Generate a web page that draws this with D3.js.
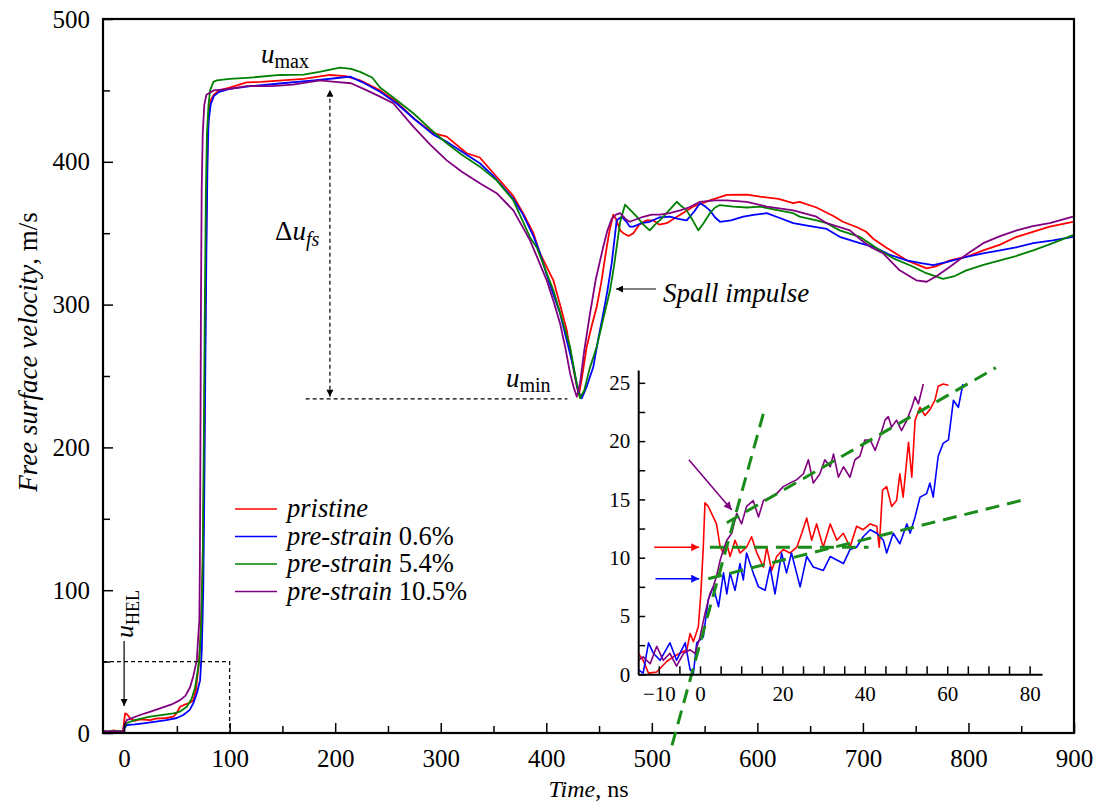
<!DOCTYPE html>
<html><head><meta charset="utf-8">
<script src="https://cdn.jsdelivr.net/npm/d3@7/dist/d3.min.js"></script>
<style>
body{margin:0;background:#fff;}
text{font-family:"Liberation Serif","Times New Roman",serif;fill:#000;}
</style>
</head><body>
<svg id="chart" width="1098" height="805"></svg>
<script>
// ---------------- DATA ----------------
const seriesNames = ["pristine", "pre-strain 0.6%", "pre-strain 5.4%", "pre-strain 10.5%"];
const seriesColors = ["#ff0000", "#0000ff", "#008000", "#800080"];

const xTicksMain = [0,100,200,300,400,500,600,700,800,900];
const yTicksMain = [0,100,200,300,400,500];
const xTicksInset = [-10,0,20,40,60,80];
const yTicksInset = [0,5,10,15,20,25];

// main: [time ns, free surface velocity m/s]
const pristine = [[-20,1.5],[-15,1],[-10,1.8],[-5,1.2],[-1,1.5],[0,8],[1,13.8],[3,13],[5.7,10.3],[10,8.5],[15,9.5],[24.6,9],[30,10],[40,10.5],[46.7,11.4],[50,14],[53,18.4],[58,20],[62,21],[65.6,23],[68,30],[70.4,46],[72,62],[73.5,90],[75,140],[76,210],[77,290],[78,360],[79,410],[80,432],[82,443],[85,447],[90,450],[100,452],[116,455.6],[130,456],[150,457],[170,458],[195,460.8],[210,460],[223.6,457],[242.5,450],[258,442],[275,430],[293,420],[305.7,417.6],[324.6,406],[337,403],[350,392],[368.8,376],[378,364],[387.8,350],[394,336],[406.7,317],[413,300],[419.4,282],[424,262],[428.9,242.5],[431,237],[434,250],[438.3,270.5],[443,285],[447.8,298.5],[452,315],[457.3,340.5],[460,352],[463.5,363],[466,360],[470,352],[473,350],[478,348],[482.5,350],[488,356],[495,359],[501.4,359],[507,356],[514,357],[525,362],[539,368.6],[555,373],[571,376.8],[590,377],[602.5,375.6],[620,374],[634,371],[640,372],[656,368],[672,362],[681,358],[695,354],[703,351],[710,346],[722,340],[741.5,331],[760.4,325.4],[770,327],[782.5,331],[800,334],[814,338],[830,342],[845.7,347.5],[861,351],[877,354.6],[899,358]];

const preStrain06 = [[-20,1],[-10,1.2],[-1,1],[0,3],[2.5,5.6],[10,6],[18,6.8],[30,8],[40,9],[50,10.5],[56,12.6],[62,16],[65.6,20.8],[69,28],[72,37],[73.6,58],[75,100],[76,170],[77,260],[78,340],[79,400],[80,428],[82,440],[85,446],[90,449],[100,451],[120,453],[150,455],[180,457],[200,458.5],[214,459.6],[225,456],[242.5,449],[258,441],[275,430],[293,419],[305.7,414],[324.6,405],[337,399],[350,390],[368.8,374],[378,363],[387.8,348],[394,336],[403,315],[413,294],[419,276],[425.6,256.5],[430,240],[433.6,234.4],[438,242],[444.6,256.5],[449,275],[454,294],[458,310],[462,329],[464.5,345],[466.7,359],[471.5,361.6],[476,358],[479,354.6],[482.5,354.6],[490,357],[498,358],[507,361],[517,361.6],[525,360],[533,359],[540,365],[545.6,371],[550,369],[555,366],[560,361],[564.6,358],[575,359],[586.7,361.6],[598,363],[608.8,364],[620,361],[634,357],[650,355],[665.7,353],[678,347.5],[697,343],[710,340.5],[725,335],[741.5,331],[755,329],[766.7,327.7],[780,330],[798,333.5],[815,336],[830,338],[845,340],[861.4,343],[880,345],[899,347.5]];

const preStrain54 = [[-20,1],[-1,1.3],[0,4],[2.5,7],[10,9],[24.6,11.4],[35,12.5],[46.7,13.8],[53,15],[59.4,18.4],[64,24],[67.3,32],[71.3,51],[73,75],[74.5,120],[75.5,200],[76.5,300],[77.5,380],[78.5,420],[80,440],[81.5,450],[84.6,456],[87.8,457],[100,458],[120,459],[147.8,460.8],[170,461],[185,463],[204.6,466],[215,465],[223.6,463],[235,459],[242.5,452],[255,445],[274,434],[290,423],[305.7,413],[320,405],[337,396.6],[353,387],[368.8,373],[384.6,347],[391,340],[406.7,310],[414,292],[422.5,270.5],[428,248],[432,234.4],[436,240],[441,255],[447.8,270.5],[454,290],[460.4,310],[464,326],[466.7,340.5],[470,358],[474.6,370],[480,366],[485.7,361.6],[492,356],[498,352],[503,356],[509,360],[515,365],[520,369],[523.6,372],[528,369],[533,366],[538,360],[544,352],[549,357],[555,364],[560,368],[564.6,369.7],[577,368.6],[590,368],[602.5,368.6],[620,366],[634,364],[640,361.6],[656,359],[665.7,357],[678,352],[697,347.5],[716,338],[730,332],[747.7,326.5],[760,322],[776,318],[787,320],[798,324],[815,328],[830,331],[845,334],[861.4,338],[880,343],[899,348.7]];

const preStrain105 = [[-20,1],[-1,1],[0,5],[2.5,9],[15,12.6],[25,15],[34,17.3],[45,20],[53,23],[58,26],[62.5,32],[65.6,40],[68.9,51],[70,65],[71.3,79],[71.8,120],[72.3,200],[72.8,300],[73.5,380],[74.5,420],[76,440],[78,447],[85,450],[100,451],[116,453],[140,453],[160,454],[185.7,457],[200,456],[215,455],[230,450],[242.5,445.6],[255,441],[274,424.6],[290,412],[305.7,401],[320,393],[337,385],[353,378],[368.8,366],[384.6,345],[392,332],[400.4,317],[407,302],[413,287],[418,270],[422.5,252],[426,242],[428.9,235.5],[432,245],[436,268],[441.5,294],[447,318],[454,340.5],[458,352],[462,360],[466,363],[470,364],[475,360],[479,358],[490,361],[500,363],[507.8,363],[517,364],[526.7,366],[535,368],[545.6,372],[560,373],[571,373],[590,372],[609,368.6],[634,366],[656,361.6],[665.7,357],[687.7,352],[697,346],[708,340],[719,336],[734.8,324],[750.6,317],[760.4,316],[770,320],[782.5,326.5],[798,335],[814,343],[830,348],[845.7,352],[861,355],[877,357],[899,361.6]];

// inset: [time ns, velocity m/s]
const insetPristine = [[-15,1.8],[-13.8,1.2],[-12.5,0.1],[-10.5,0.2],[-8.1,1.1],[-6.5,1.5],[-4.9,1.8],[-3.2,2.1],[-2.4,3.5],[-1.6,2.8],[-0.4,4.1],[0.2,6.9],[0.8,10.9],[1.2,14.7],[2,14.4],[3.2,13.5],[4,12.9],[4.9,10.9],[5.7,10.4],[6.5,11.2],[7.3,10.1],[8.5,11.5],[9.7,10.4],[11.3,10.9],[12.5,11.8],[13.8,10.4],[15.4,9.2],[16.2,10.9],[17.4,8.9],[18.6,10.1],[20.2,10.7],[21.8,10.4],[23.5,10.9],[24.7,12.1],[25.9,13.4],[27.1,11.5],[28.3,12.9],[29.9,10.9],[31.6,12.9],[33.2,11.5],[34.8,12.1],[36.4,10.9],[38,12.7],[39.6,12.4],[41.3,12.9],[42.9,12.7],[43.5,10.9],[44.3,15.8],[45.3,16.1],[46.5,14.4],[47.7,14.9],[48.5,17.2],[49.3,15.2],[50.6,19.9],[51.4,16.9],[52.2,21.8],[53.4,22.9],[54.6,22.2],[55.8,22.7],[57,23.5],[57.8,24.7],[59,24.9],[60.3,24.8]];
const insetPre06 = [[-15,0.4],[-13.8,0.1],[-12.5,2.7],[-11.3,1.8],[-9.7,1.2],[-7.3,2.7],[-5.7,1.2],[-3.6,2.7],[-2.4,0.4],[-1.6,0.1],[-0.8,2.7],[0.8,3.2],[2,6.4],[3.2,7.5],[4.5,5.8],[5.7,8.7],[6.5,6.9],[7.3,8.7],[8.5,7.2],[9.7,9.5],[10.5,8.1],[11.3,10.4],[12.9,8.7],[14.2,7.5],[15.8,7.2],[17,9.2],[18.2,6.9],[19.8,10.4],[21,8.7],[22.2,10.4],[24.3,7.5],[25.9,10.1],[27.5,9.2],[29.9,8.9],[31.6,10.1],[33.2,9.8],[34.8,9.5],[36.4,10.7],[38,10.9],[39.6,11.8],[41.3,12.4],[42.9,12.1],[44.5,11.5],[45.3,10.4],[46.9,12.1],[48.5,11.2],[50.2,12.9],[51,12.1],[52.2,13.5],[53.4,15.2],[55,15.5],[55.8,16.4],[56.6,15.2],[57.8,18.7],[59,19.8],[60.3,20.1],[61.5,23.5],[62.7,22.9],[63.8,24.9]];
const insetPre105 = [[-15,1.2],[-13.8,1.5],[-12.1,0.9],[-10.5,2.4],[-8.9,1.2],[-7.3,1.8],[-5.7,0.7],[-4,1.8],[-2.4,2.1],[-1.2,1.8],[0,3.2],[1.2,5.2],[2.4,6.9],[3.2,7.5],[4,8.4],[4.9,9.8],[5.7,10.7],[6.5,11.5],[7.7,12.1],[8.9,13.8],[10.1,12.9],[11.3,14.4],[12.9,14.9],[14.2,13.5],[15.4,14.9],[17,15.2],[18.6,15.5],[20.2,16.1],[21.8,16.4],[23.5,16.7],[25.1,17.2],[26.3,18.4],[27.5,16.4],[29.1,17.2],[30.3,18.4],[31.6,17.8],[32.4,18.9],[33.6,16.9],[34.8,17.8],[36.4,16.9],[37.6,18.4],[38.8,18.7],[40,20.1],[41.3,20.1],[42.5,19.2],[43.7,20.4],[44.9,21.8],[45.7,22.1],[46.5,21.2],[47.7,21.8],[48.9,20.9],[50.2,21.8],[51.4,22.9],[52.2,23.8],[53,23.2],[54.2,24.9]];

// inset fit lines (dashed green) [time, velocity]
const fitSteep = [[-6.8,-6.1],[15.8,22.9]];
const fitPurple = [[6.5,13.0],[71.8,26.3]];
const fitRed = [[2.4,10.9],[40.9,10.9]];
const fitBlue = [[2.0,8.2],[78.9,15.0]];

// ---------------- DRAW ----------------
const svg = d3.select("#chart");
const M = {l:103, r:1074, t:19, b:733};
const x = d3.scaleLinear().domain([-20,900]).range([M.l, M.r]);
const y = d3.scaleLinear().domain([0,500]).range([M.b, M.t]);

const defs = svg.append("defs");
function marker(id, color, w, h){
  defs.append("marker").attr("id",id).attr("viewBox","0 0 10 10")
    .attr("refX",10).attr("refY",5).attr("markerUnits","userSpaceOnUse")
    .attr("markerWidth",w).attr("markerHeight",h).attr("orient","auto-start-reverse")
    .append("path").attr("d","M0,0 L10,5 L0,10 Z").attr("fill",color);
}
marker("ahk","#000",9,7);
marker("ahr","#ff0000",10,8);
marker("ahb","#0000ff",10,8);
marker("ahp","#800080",10,8);

const mainSeries = [pristine, preStrain06, preStrain54, preStrain105];
const line = d3.line().x(d=>x(d[0])).y(d=>y(d[1]));
mainSeries.forEach((s,i)=>{
  svg.append("path").attr("d", line(s)).attr("fill","none")
    .attr("stroke", seriesColors[i]).attr("stroke-width",1.8).attr("stroke-linejoin","round");
});

// main axes
const gx = svg.append("g").attr("transform",`translate(0,${M.b})`);
gx.call(d3.axisBottom(x).tickValues(d3.range(0,901,50)).tickSize(-7).tickSizeOuter(0).tickFormat(""));
gx.call(g=>g.selectAll(".tick").filter(d=>d%100===0).select("line").attr("y2",-10));
const gxl = svg.append("g").attr("transform",`translate(0,${M.b})`)
  .call(d3.axisBottom(x).tickValues(xTicksMain).tickSize(0).tickPadding(16).tickFormat(d3.format("d")));
gxl.select(".domain").remove();

const gy = svg.append("g").attr("transform",`translate(${M.l},0)`);
gy.call(d3.axisLeft(y).tickValues(d3.range(0,501,50)).tickSize(-7).tickSizeOuter(0).tickFormat(""));
gy.call(g=>g.selectAll(".tick").filter(d=>d%100===0).select("line").attr("x2",10));
const gyl = svg.append("g").attr("transform",`translate(${M.l},0)`)
  .call(d3.axisLeft(y).tickValues(yTicksMain).tickSize(0).tickPadding(13).tickFormat(d3.format("d")));
gyl.select(".domain").remove();
[gx,gy,gxl,gyl].forEach(g=>{
  g.selectAll("text").attr("font-size",25).attr("font-family",'"Liberation Serif",serif').attr("fill","#000");
  g.selectAll("line").attr("stroke","#000").attr("stroke-width",1.5);
  g.select(".domain").attr("stroke","none");
});
svg.append("rect").attr("x",M.l).attr("y",M.t).attr("width",M.r-M.l).attr("height",M.b-M.t)
  .attr("fill","none").attr("stroke","#000").attr("stroke-width",2.2);

// axis titles
const xt = svg.append("text").attr("x",(M.l+M.r)/2).attr("y",797).attr("text-anchor","middle").attr("font-size",24);
xt.append("tspan").attr("font-style","italic").text("Time");
xt.append("tspan").text(", ns");
const yt = svg.append("text").attr("transform",`translate(37,352) rotate(-90)`).attr("text-anchor","middle").attr("font-size",27);
yt.append("tspan").attr("font-style","italic").text("Free surface velocity");
yt.append("tspan").text(", m/s");

// dashed rectangle (zoom window)
svg.append("path").attr("d",`M${x(-20)},${y(50)} H${x(100)} V${y(0)}`)
  .attr("fill","none").attr("stroke","#000").attr("stroke-width",1.2).attr("stroke-dasharray","4,3");

// umin horizontal dashed line and delta-u arrow
svg.append("line").attr("x1",x(172)).attr("x2",x(420)).attr("y1",y(234)).attr("y2",y(234))
  .attr("stroke","#000").attr("stroke-width",1.2).attr("stroke-dasharray","4,3");
svg.append("line").attr("x1",x(195)).attr("x2",x(195)).attr("y1",y(235.5)).attr("y2",y(450.5))
  .attr("stroke","#000").attr("stroke-width",1.2).attr("stroke-dasharray","4,3")
  .attr("marker-start","url(#ahk)").attr("marker-end","url(#ahk)");

// labels
function subLabel(xp, yp, main, sub, opts={}){
  const t = svg.append("text").attr("x",xp).attr("y",yp).attr("font-size",opts.size||27);
  if(opts.pre) t.append("tspan").text(opts.pre);
  t.append("tspan").attr("font-style","italic").text(main);
  t.append("tspan").attr("font-size",opts.subSize||20).attr("dy",opts.dy||5).attr("font-style",opts.subItalic?"italic":"normal").text(sub);
  return t;
}
subLabel(261, 63, "u", "max");
subLabel(506, 387, "u", "min");
subLabel(275, 240, "u", "fs", {pre:"Δ", subItalic:true, subSize:20, dy:6});

// spall impulse
svg.append("line").attr("x1",656).attr("x2",616).attr("y1",289).attr("y2",289)
  .attr("stroke","#000").attr("stroke-width",1.2).attr("marker-end","url(#ahk)");
svg.append("text").attr("x",663).attr("y",302).attr("font-size",27).attr("font-style","italic").text("Spall impulse");

// u_HEL
const hel = svg.append("text").attr("transform","translate(133,638) rotate(-90)").attr("font-size",26);
hel.append("tspan").attr("font-style","italic").text("u");
hel.append("tspan").attr("font-size",18).attr("dy",6).text("HEL");
svg.append("line").attr("x1",x(0)).attr("x2",x(0)).attr("y1",641).attr("y2",706)
  .attr("stroke","#000").attr("stroke-width",1.2).attr("marker-end","url(#ahk)");

// legend
const lg = svg.append("g");
seriesNames.forEach((n,i)=>{
  const yy = 509 + i*27.5;
  lg.append("line").attr("x1",235).attr("x2",277).attr("y1",yy).attr("y2",yy).attr("stroke",seriesColors[i]).attr("stroke-width",1.6);
  const t = lg.append("text").attr("x",287).attr("y",yy+8).attr("font-size",26.5);
  const parts = n.split(" ");
  t.append("tspan").attr("font-style","italic").text(parts[0]);
  if(parts[1]) t.append("tspan").text(" "+parts[1]);
});

// ---------------- INSET ----------------
const xi = d3.scaleLinear().domain([-15,83]).range([638.2,1042]);
const yi = d3.scaleLinear().domain([0,26.1]).range([674.3,370]);
const lineI = d3.line().x(d=>xi(d[0])).y(d=>yi(d[1]));

[[insetPristine,0],[insetPre06,1],[insetPre105,3]].forEach(([s,i])=>{
  svg.append("path").attr("d",lineI(s)).attr("fill","none").attr("stroke",seriesColors[i])
    .attr("stroke-width",1.6).attr("stroke-linejoin","round");
});
[fitSteep, fitPurple, fitRed, fitBlue].forEach(f=>{
  svg.append("path").attr("d",lineI(f)).attr("fill","none").attr("stroke","#1a8c1a")
    .attr("stroke-width",3).attr("stroke-dasharray","14,8");
});
// inset arrows
svg.append("line").attr("x1",xi(-11.1)).attr("x2",xi(-0.2)).attr("y1",yi(10.9)).attr("y2",yi(10.9))
  .attr("stroke","#ff0000").attr("stroke-width",1.6).attr("marker-end","url(#ahr)");
svg.append("line").attr("x1",xi(-10.8)).attr("x2",xi(-0.2)).attr("y1",yi(8.2)).attr("y2",yi(8.2))
  .attr("stroke","#0000ff").attr("stroke-width",1.6).attr("marker-end","url(#ahb)");
svg.append("line").attr("x1",xi(-2.7)).attr("x2",xi(7.7)).attr("y1",yi(18.4)).attr("y2",yi(14.1))
  .attr("stroke","#800080").attr("stroke-width",1.6).attr("marker-end","url(#ahp)");

const gxi = svg.append("g").attr("transform",`translate(0,674.3)`)
  .call(d3.axisBottom(xi).tickValues(d3.range(-10,81,5)).tickSize(-8).tickSizeOuter(0).tickPadding(12)
    .tickFormat(d=>xTicksInset.includes(d)?d3.format("d")(d):""));
const gyi = svg.append("g").attr("transform",`translate(638.2,0)`)
  .call(d3.axisLeft(yi).tickValues(d3.range(0,26,2.5)).tickSize(-7).tickSizeOuter(0).tickPadding(8)
    .tickFormat(d=>yTicksInset.includes(d)?d3.format("d")(d):""));
[gxi,gyi].forEach(g=>{
  g.selectAll("text").attr("font-size",21).attr("font-family",'"Liberation Serif",serif').attr("fill","#000");
  g.selectAll("line").attr("stroke","#000").attr("stroke-width",1.5);
  g.select(".domain").attr("stroke","#000").attr("stroke-width",2);
});
</script>
</body></html>
